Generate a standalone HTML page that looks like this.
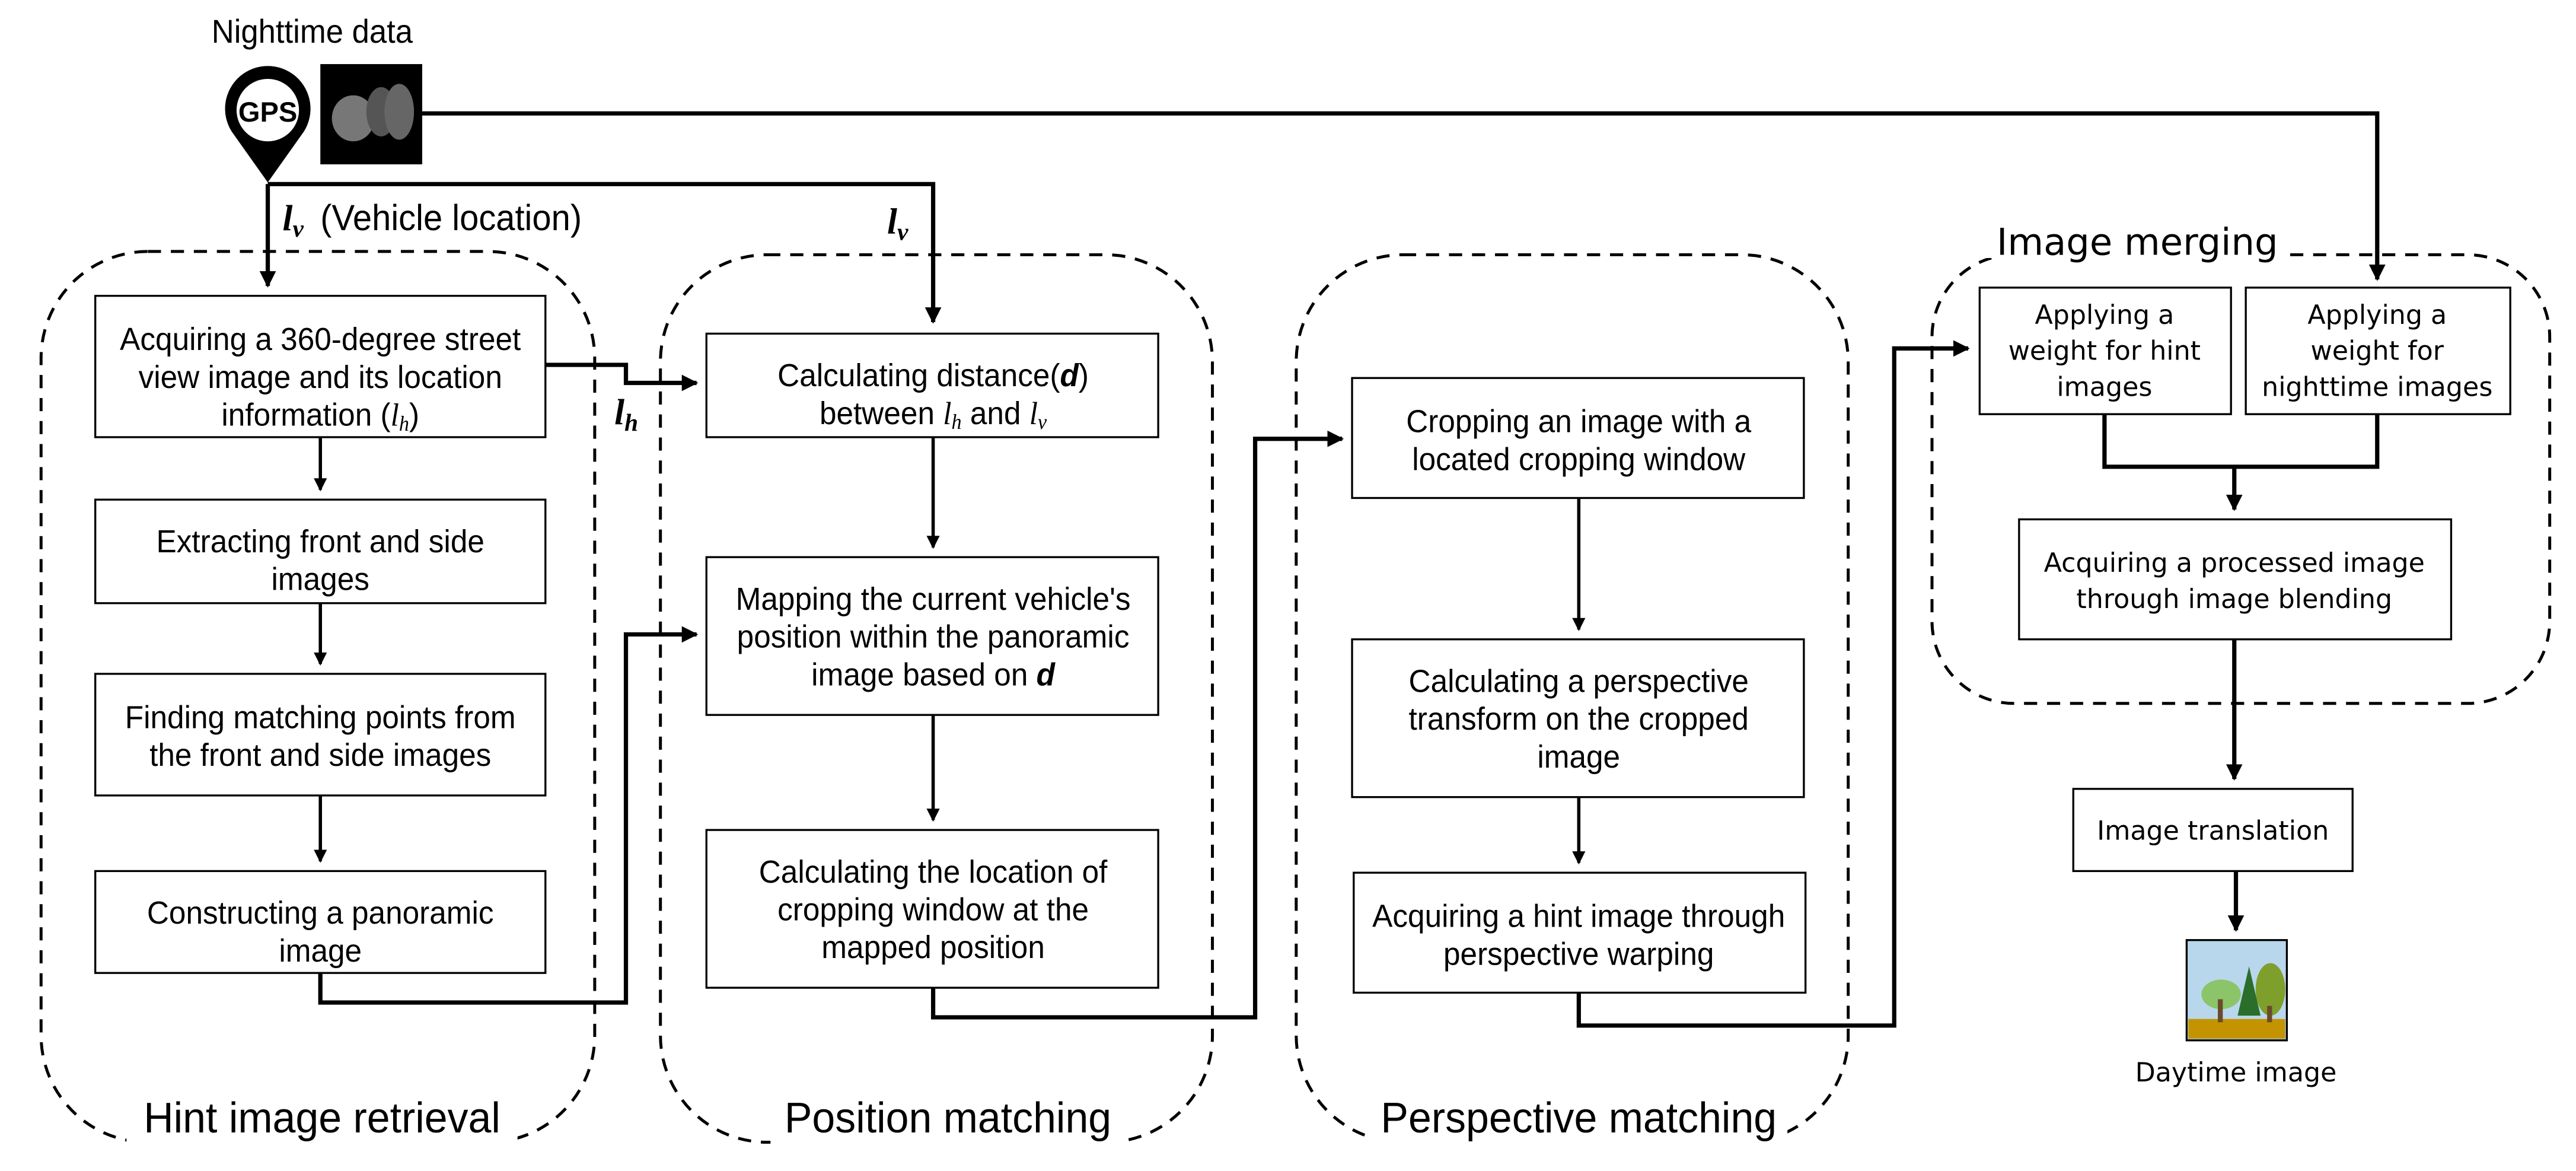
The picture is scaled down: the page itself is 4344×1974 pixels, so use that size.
<!DOCTYPE html>
<html><head><meta charset="utf-8"><style>
html,body{margin:0;padding:0;background:#fff;}
svg{display:block;}
.t{font-family:"Liberation Sans",sans-serif;font-size:19.5px;text-anchor:middle;fill:#000;}
.w{font-family:"DejaVu Sans","Liberation Sans",sans-serif;font-size:16px;text-anchor:middle;fill:#000;}
.m{font-family:"Liberation Serif",serif;font-style:italic;}
.box{fill:#fff;stroke:#000;stroke-width:1.2;}
.ln{fill:none;stroke:#000;stroke-width:2.6;}
.ln2{fill:none;stroke:#000;stroke-width:2;}
.dash{fill:none;stroke:#000;stroke-width:1.8;stroke-dasharray:8 6;}
</style></head><body>
<svg width="4344" height="1974" viewBox="0 0 1568 712.5" preserveAspectRatio="none" xmlns="http://www.w3.org/2000/svg">
<defs><marker id="a" markerWidth="8" markerHeight="8" refX="7" refY="4" orient="auto" markerUnits="userSpaceOnUse"><path d="M0,0 L8,4 L0,8 z" fill="#000"/></marker>
<marker id="b" markerWidth="10" markerHeight="10" refX="9" refY="5" orient="auto" markerUnits="userSpaceOnUse"><path d="M0,0 L10,5 L0,10 z" fill="#000"/></marker></defs>

<!-- dashed groups -->
<rect class="dash" x="25" y="153" width="337" height="542" rx="65"/>
<rect class="dash" x="402" y="155" width="336" height="540" rx="65"/>
<rect class="dash" x="789" y="155" width="336" height="540" rx="65"/>
<rect class="dash" x="1176" y="155" width="376" height="273" rx="50"/>

<!-- group labels -->
<rect x="77" y="658" width="238" height="40" fill="#fff"/>
<g transform="matrix(0.97,0,0,1,5.9,0)"><text class="t" x="196" y="689" style="font-size:26px">Hint image retrieval</text></g>
<rect x="469" y="658" width="217" height="40" fill="#fff"/>
<g transform="matrix(0.97,0,0,1,17.3,0)"><text class="t" x="577" y="689" style="font-size:26px">Position matching</text></g>
<rect x="835" y="658" width="253" height="40" fill="#fff"/>
<g transform="matrix(0.97,0,0,1,28.8,0)"><text class="t" x="961" y="689" style="font-size:26px">Perspective matching</text></g>
<rect x="1209" y="121" width="184" height="36" fill="#fff"/>
<text class="w" x="1301" y="155" style="font-size:22.5px">Image merging</text>

<!-- top inputs -->
<g transform="matrix(0.95,0,0,1,9.5,0)"><text class="t" x="190" y="26" style="font-size:20px">Nighttime data</text></g>
<path d="M163,111 L141,80 A26,26 0 1 1 185,80 Z" fill="#000"/>
<circle cx="163" cy="67" r="19" fill="#fff"/>
<text x="163" y="74" style="font-family:'Liberation Sans',sans-serif;font-size:17px;font-weight:bold;text-anchor:middle">GPS</text>
<rect x="195" y="39" width="62" height="61" fill="#000"/>
<ellipse cx="215" cy="72" rx="13" ry="14" fill="#777"/>
<ellipse cx="232" cy="68" rx="9" ry="15" fill="#555"/>
<ellipse cx="243" cy="68" rx="9" ry="17" fill="#666"/>
<path class="ln" d="M257,69 H1447 V170" marker-end="url(#b)"/>
<path class="ln" d="M163,112 H568 V196" marker-end="url(#b)"/>
<path class="ln" d="M163,112 V174" marker-end="url(#b)"/>
<text x="172" y="140" style="font-family:'Liberation Serif',serif;font-size:22px;font-weight:bold;font-style:italic">l<tspan style="font-size:15px" dy="4">v</tspan></text>
<g transform="matrix(0.95,0,0,1,9.75,0)"><text class="t" x="195" y="140" style="text-anchor:start;font-size:22px">(Vehicle location)</text></g>
<text x="540" y="142" style="font-family:'Liberation Serif',serif;font-size:22px;font-weight:bold;font-style:italic">l<tspan style="font-size:15px" dy="4">v</tspan></text>

<!-- column 1 -->
<rect class="box" x="58" y="180" width="274" height="86"/>
<g transform="matrix(0.95,0,0,1,9.75,0)" class="t"><text x="195" y="213">Acquiring a 360-degree street</text><text x="195" y="236">view image and its location</text><text x="195" y="259">information (<tspan class="m">l<tspan style="font-size:13px" dy="3">h</tspan></tspan><tspan dy="-3">)</tspan></text></g>
<rect class="box" x="58" y="304" width="274" height="63"/>
<g transform="matrix(0.95,0,0,1,9.75,0)" class="t"><text x="195" y="336">Extracting front and side</text><text x="195" y="359">images</text></g>
<rect class="box" x="58" y="410" width="274" height="74"/>
<g transform="matrix(0.95,0,0,1,9.75,0)" class="t"><text x="195" y="443">Finding matching points from</text><text x="195" y="466">the front and side images</text></g>
<rect class="box" x="58" y="530" width="274" height="62"/>
<g transform="matrix(0.95,0,0,1,9.75,0)" class="t"><text x="195" y="562">Constructing a panoramic</text><text x="195" y="585">image</text></g>
<path class="ln2" d="M195,266 V298" marker-end="url(#a)"/>
<path class="ln2" d="M195,367 V404" marker-end="url(#a)"/>
<path class="ln2" d="M195,484 V524" marker-end="url(#a)"/>
<path class="ln" d="M332,222 H381 V233 H424" marker-end="url(#b)"/>
<text x="374" y="258" style="font-family:'Liberation Serif',serif;font-size:22px;font-weight:bold;font-style:italic">l<tspan style="font-size:15px" dy="4">h</tspan></text>
<path class="ln" d="M195,592 V610 H381 V386 H424" marker-end="url(#b)"/>

<!-- column 2 -->
<rect class="box" x="430" y="203" width="275" height="63"/>
<g transform="matrix(0.95,0,0,1,28.4,0)" class="t"><text x="568" y="235">Calculating distance(<tspan font-weight="bold" font-style="italic">d</tspan>)</text><text x="568" y="258">between <tspan class="m">l<tspan style="font-size:13px" dy="3">h</tspan></tspan><tspan dy="-3"> and </tspan><tspan class="m">l<tspan style="font-size:13px" dy="3">v</tspan></tspan></text></g>
<rect class="box" x="430" y="339" width="275" height="96"/>
<g transform="matrix(0.95,0,0,1,28.4,0)" class="t"><text x="568" y="371">Mapping the current vehicle's</text><text x="568" y="394">position within the panoramic</text><text x="568" y="417">image based on <tspan font-weight="bold" font-style="italic">d</tspan></text></g>
<rect class="box" x="430" y="505" width="275" height="96"/>
<g transform="matrix(0.95,0,0,1,28.4,0)" class="t"><text x="568" y="537">Calculating the location of</text><text x="568" y="560">cropping window at the</text><text x="568" y="583">mapped position</text></g>
<path class="ln2" d="M568,266 V333" marker-end="url(#a)"/>
<path class="ln2" d="M568,435 V499" marker-end="url(#a)"/>
<path class="ln" d="M568,601 V619 H764 V267 H817" marker-end="url(#b)"/>

<!-- column 3 -->
<rect class="box" x="823" y="230" width="275" height="73"/>
<g transform="matrix(0.95,0,0,1,48,0)" class="t"><text x="961" y="263">Cropping an image with a</text><text x="961" y="286">located cropping window</text></g>
<rect class="box" x="823" y="389" width="275" height="96"/>
<g transform="matrix(0.95,0,0,1,48,0)" class="t"><text x="961" y="421">Calculating a perspective</text><text x="961" y="444">transform on the cropped</text><text x="961" y="467">image</text></g>
<rect class="box" x="824" y="531" width="275" height="73"/>
<g transform="matrix(0.95,0,0,1,48,0)" class="t"><text x="961" y="564">Acquiring a hint image through</text><text x="961" y="587">perspective warping</text></g>
<path class="ln2" d="M961,303 V383" marker-end="url(#a)"/>
<path class="ln2" d="M961,485 V525" marker-end="url(#a)"/>
<path class="ln" d="M961,604 V624 H1153 V212 H1198" marker-end="url(#b)"/>

<!-- column 4 -->
<rect class="box" x="1205" y="175" width="153" height="77"/>
<g class="w"><text x="1281" y="197">Applying a</text><text x="1281" y="219">weight for hint</text><text x="1281" y="241">images</text></g>
<rect class="box" x="1367" y="175" width="161" height="77"/>
<g class="w"><text x="1447" y="197">Applying a</text><text x="1447" y="219">weight for</text><text x="1447" y="241">nighttime images</text></g>
<path class="ln" d="M1281,252 V284 H1447 V252"/>
<path class="ln" d="M1360,284 V310" marker-end="url(#b)"/>
<rect class="box" x="1229" y="316" width="263" height="73"/>
<g class="w"><text x="1360" y="348">Acquiring a processed image</text><text x="1360" y="370">through image blending</text></g>
<path class="ln" d="M1360,389 V474" marker-end="url(#b)"/>
<rect class="box" x="1262" y="480" width="170" height="50"/>
<text class="w" x="1347" y="511">Image translation</text>
<path class="ln" d="M1361,530 V566" marker-end="url(#b)"/>
<rect x="1331" y="572" width="61" height="61" fill="#b9d7ec" stroke="#000" stroke-width="1.2"/>
<rect x="1332" y="620" width="59" height="12" fill="#c49400"/>
<ellipse cx="1352" cy="605" rx="12" ry="9" fill="#8cc46a"/>
<ellipse cx="1382" cy="602" rx="9" ry="16" fill="#7f9f2c"/>
<path d="M1369,588 L1362,618 L1376,618 Z" fill="#2a6e2a"/>
<rect x="1350" y="608" width="3" height="14" fill="#6b4a2a"/>
<rect x="1380" y="612" width="3" height="10" fill="#6b4a2a"/>
<text class="w" x="1361" y="658">Daytime image</text>
</svg>
</body></html>
